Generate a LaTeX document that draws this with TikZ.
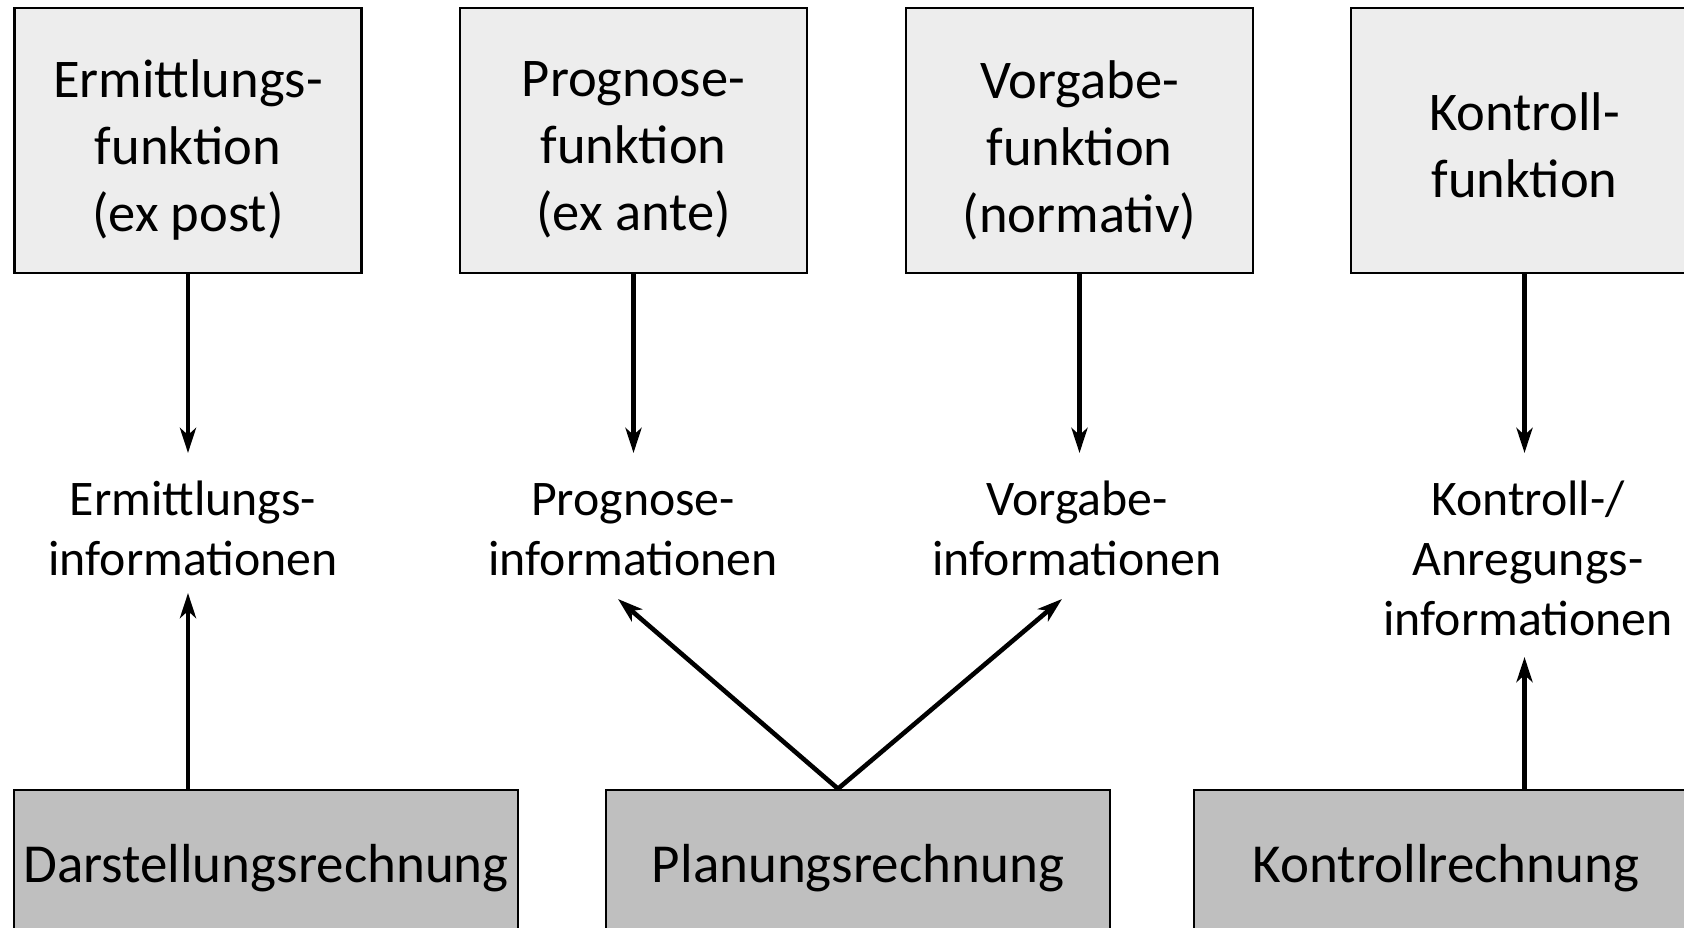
\documentclass[tikz,border=0pt]{standalone}
\usepackage{fontspec}
\setmainfont{Carlito}
\usetikzlibrary{arrows.meta,calc}
\definecolor{topgray}{HTML}{EDEDED}
\definecolor{botgray}{HTML}{BFBFBF}
% uniform height for the first line of a stacked label
\newcommand{\firstline}{\rule{0pt}{0.78em}}
\begin{document}
\begin{tikzpicture}[x=1pt,y=-1pt,
  fbox/.style={draw=black, line width=2.5pt, fill=topgray, minimum width=347pt,
    minimum height=265pt, inner sep=0pt},
  boxtext/.style={align=center, inner sep=0pt,
    font=\fontsize{54.5}{67}\selectfont},
  rbox/.style={draw=black, line width=2.5pt, fill=botgray, minimum width=504pt,
    minimum height=156pt, inner sep=0pt, font=\fontsize{55}{66}\selectfont},
  info/.style={align=center, inner sep=0pt, anchor=north,
    font=\fontsize{49.8}{60}\selectfont},
  arr/.style={line width=4.6pt, -{Stealth[length=25pt,width=16pt,inset=7pt]}}]
\useasboundingbox (0,0) rectangle (1684,928);
\clip (0,0) rectangle (1684,928);

% functions (top row)
\node[fbox, label={[boxtext,yshift=-9.5pt]center:Ermittlungs-\\funktion\\(ex post)}]
  (f1) at (188,140.5) {};
\node[fbox, label={[boxtext,yshift=-9.5pt]center:Prognose-\\funktion\\(ex ante)}]
  (f2) at (633.5,140.5) {};
\node[fbox, label={[boxtext,yshift=-9.5pt]center:Vorgabe-\\funktion\\(normativ)}]
  (f3) at (1079.5,140.5) {};
\node[fbox, label={[boxtext,yshift=-4.5pt]center:Kontroll-\\funktion}]
  (f4) at (1524.5,140.5) {};

% kinds of information (middle row)
\node[info] (i1) at (193,476)  {\firstline Ermittlungs-\\informationen};
\node[info] (i2) at (633,476)  {\firstline Prognose-\\informationen};
\node[info] (i3) at (1077,476) {\firstline Vorgabe-\\informationen};
\node[info] (i4) at (1528,476) {\firstline Kontroll-/\\Anregungs-\\informationen};

% accounting systems (bottom row)
\node[rbox] (r1) at (266,868)  {Darstellungsrechnung};
\node[rbox] (r2) at (858,868)  {Planungsrechnung};
\node[rbox] (r3) at (1446,868) {Kontrollrechnung};

% functions -> information
\draw[arr] (f1.south) -- ([yshift=23pt]i1.north -| f1.south);
\draw[arr] (f2.south) -- ([yshift=23pt]i2.north -| f2.south);
\draw[arr] (f3.south) -- ([yshift=23pt]i3.north -| f3.south);
\draw[arr] (f4.south) -- ([yshift=23pt]i4.north -| f4.south);

% accounting systems -> information
\draw[arr] (r1.north -| f1.south) -- ([yshift=-117pt]i1.north -| f1.south);
\draw[arr] ([xshift=-20pt]r2.north) -- ([xshift=-15pt,yshift=-123pt]i2.north);
\draw[arr] ([xshift=-20pt]r2.north) -- ([xshift=-15pt,yshift=-123pt]i3.north);
\draw[arr] (r3.north -| f4.south) -- ([yshift=-181pt]i4.north -| f4.south);
\end{tikzpicture}
\end{document}
